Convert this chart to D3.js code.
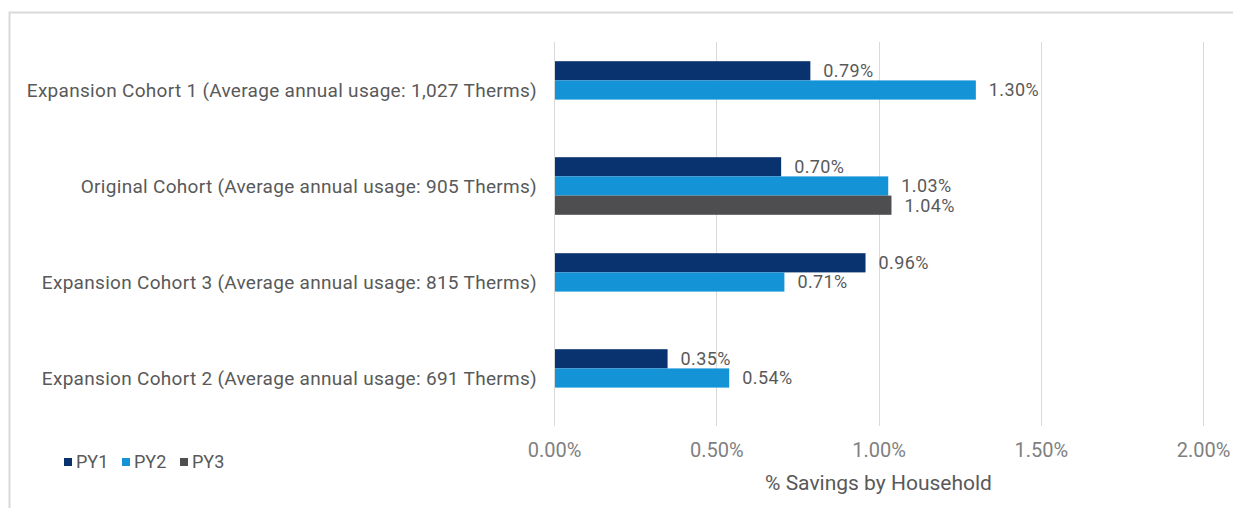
<!DOCTYPE html>
<html>
<head>
<meta charset="utf-8">
<script src="https://cdn.jsdelivr.net/npm/d3@7"></script>
<style>
  body { margin: 0; background: #fff; }
  text { font-family: "Roboto", "Liberation Sans", sans-serif; }
</style>
</head>
<body>
<div id="chart"></div>
<script>
const categories = [
  "Expansion Cohort 1 (Average annual usage: 1,027 Therms)",
  "Original Cohort (Average annual usage: 905 Therms)",
  "Expansion Cohort 3 (Average annual usage: 815 Therms)",
  "Expansion Cohort 2 (Average annual usage: 691 Therms)"
]
const seriesNames = ["PY1", "PY2", "PY3"]
const py1 = [0.0079, 0.0070, 0.0096, 0.0035]
const py2 = [0.0130, 0.0103, 0.0071, 0.0054]
const py3 = [null, 0.0104, null, null]
const xTicks = [0, 0.005, 0.01, 0.015, 0.02]
const colors = ["#08336e", "#1494d7", "#4e4e50"]

const width = 1233
const height = 508
const margin = { top: 42, bottom: 82, left: 554, right: 30 }

const svg = d3.select("#chart").append("svg")
  .attr("width", width)
  .attr("height", height)

// chart frame
svg.append("path")
  .attr("d", `M9.5,${height}V12.5H${width}`)
  .attr("fill", "none")
  .attr("stroke", "#d9d9d9")
  .attr("stroke-width", 2)

const x = d3.scaleLinear()
  .domain([0, 0.02])
  .range([margin.left, 1203])

const y = d3.scaleBand()
  .domain(categories)
  .range([margin.top, height - margin.bottom])

const inner = d3.scaleBand()
  .domain(seriesNames)
  .range([0, y.bandwidth()])
  .paddingOuter(1)
  .paddingInner(0)

// gridlines
svg.append("g")
  .selectAll("line")
  .data(xTicks)
  .join("line")
    .attr("x1", d => Math.round(x(d)) + 0.5)
    .attr("x2", d => Math.round(x(d)) + 0.5)
    .attr("y1", margin.top)
    .attr("y2", height - margin.bottom)
    .attr("stroke", "#d9d9d9")
    .attr("stroke-width", 1)

const rows = []
const all = [py1, py2, py3]
categories.forEach((c, i) => {
  all.forEach((s, j) => {
    if (s[i] != null) rows.push({ cat: c, series: seriesNames[j], value: s[i], color: colors[j] })
  })
})

svg.append("g")
  .selectAll("rect")
  .data(rows)
  .join("rect")
    .attr("x", x(0) + 1)
    .attr("y", d => y(d.cat) + inner(d.series))
    .attr("width", d => x(d.value) - x(0) - 1)
    .attr("height", inner.bandwidth())
    .attr("fill", d => d.color)

svg.append("g")
  .selectAll("text")
  .data(rows)
  .join("text")
    .attr("x", d => x(d.value) + 13)
    .attr("y", d => y(d.cat) + inner(d.series) + inner.bandwidth() / 2)
    .attr("dy", "0.36em")
    .attr("font-size", "18px")
    .attr("letter-spacing", "0.4px")
    .attr("fill", "#595959")
    .text(d => (d.value * 100).toFixed(2) + "%")

// category labels
svg.append("g")
  .selectAll("text")
  .data(categories)
  .join("text")
    .attr("x", 537)
    .attr("y", d => y(d) + y.bandwidth() / 2)
    .attr("dy", "0.36em")
    .attr("text-anchor", "end")
    .attr("font-size", "19px")
    .attr("letter-spacing", "0.3px")
    .attr("fill", "#595959")
    .text(d => d)

// x axis
const xAxis = g => g
  .attr("transform", `translate(0,${height - margin.bottom})`)
  .call(d3.axisBottom(x).tickValues(xTicks).tickSize(0).tickPadding(17)
    .tickFormat(d => (d * 100).toFixed(2) + "%"))
  .call(g => g.select(".domain").remove())
  .call(g => g.selectAll("text")
    .attr("font-size", "20px")
    .attr("fill", "#7f7f7f")
    .attr("font-family", "Roboto, sans-serif"))
svg.append("g").call(xAxis)

svg.append("text")
  .attr("x", x(0.01))
  .attr("y", 490)
  .attr("text-anchor", "middle")
  .attr("font-size", "21px")
  .attr("fill", "#595959")
  .text("% Savings by Household")

// legend
const legendX = [64, 122, 180]
const legend = svg.append("g")
  .selectAll("g")
  .data(seriesNames)
  .join("g")
    .attr("transform", (d, i) => `translate(${legendX[i]},462)`)
legend.append("rect")
  .attr("x", 0).attr("y", -4)
  .attr("width", 8).attr("height", 8)
  .attr("fill", (d, i) => colors[i])
legend.append("text")
  .attr("x", 12)
  .attr("dy", "0.36em")
  .attr("font-size", "18px")
  .attr("fill", "#595959")
  .text(d => d)
</script>
</body>
</html>
